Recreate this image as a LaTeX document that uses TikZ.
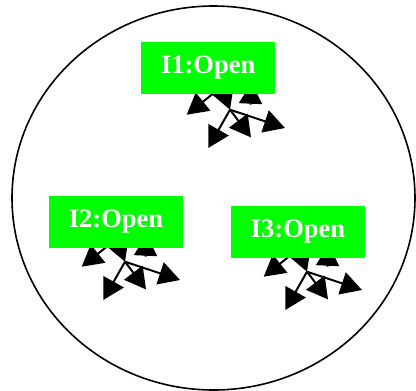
\documentclass[tikz,border=0pt]{standalone}
\usepackage{fontspec}
\setmainfont{Liberation Serif}
\usetikzlibrary{arrows.meta}
\begin{document}
\begin{tikzpicture}[x=1pt,y=-1pt,
  tag/.style={fill={rgb,255:red,0;green,255;blue,0}, text=white,
    font=\bfseries\fontsize{26.5}{26.5}\selectfont,
    minimum width=134pt, minimum height=51.7pt, inner sep=0pt},
  arr/.style={line width=2pt, -{Triangle[length=21pt,width=23pt]}}]
\useasboundingbox (0,0) rectangle (416,391);
\draw[line width=1.6pt] (213.5,198) ellipse [x radius=201.5, y radius=192];
\foreach \n/\hx/\hy in {1/230/109.7, 2/125/261.7, 3/307/271.7} {
  \begin{scope}[shift={(\hx,\hy)}]
    \coordinate (h\n) at (0,0);
    \coordinate (a\n) at (-21.7,38.3);
    \coordinate (b\n) at (21,27.7);
    \coordinate (c\n) at (55,18.3);
    \coordinate (e\n) at (-43.3,5);
    \coordinate (es\n) at (-12,-20);
    \coordinate (fs\n) at (-9,-24);
    \coordinate (ds\n) at (20.5,-5);
    \coordinate (d\n) at (21.5,-27);
    \draw[arr] (h\n) -- (a\n);
    \draw[arr] (h\n) -- (b\n);
    \draw[arr] (h\n) -- (c\n);
    \draw[arr] (es\n) -- (e\n);
    \draw[arr] (fs\n) -- (h\n);
    \draw[arr] (ds\n) -- (d\n);
  \end{scope}
}
\node[tag] (b1box) at (208.2,67.8) {I1:Open};
\node[tag] (b2box) at (116,221.8) {I2:Open};
\node[tag] (b3box) at (298,231.8) {I3:Open};
\end{tikzpicture}
\end{document}
